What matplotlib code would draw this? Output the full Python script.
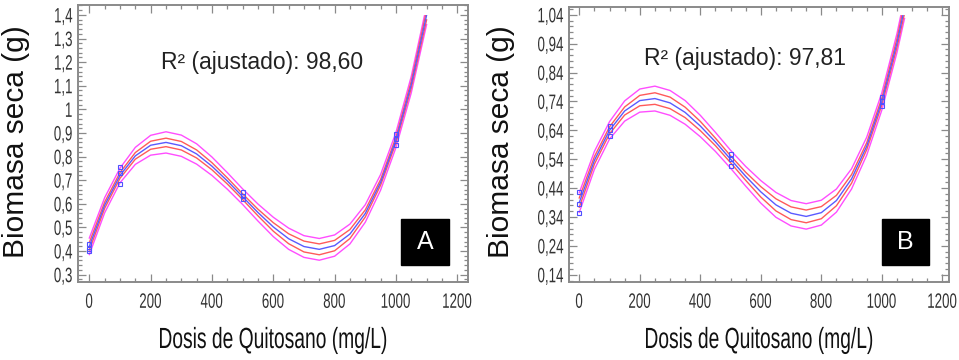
import numpy as np
import matplotlib.pyplot as plt
import matplotlib.patheffects as pe
from matplotlib.patches import Rectangle
from matplotlib.transforms import Affine2D
from matplotlib.ticker import FixedLocator, MultipleLocator, FuncFormatter

# ── data ──────────────────────────────────────────────────────
# panel A (curve sampled every 50 mg/L)
dose_a = [0, 50, 100, 150, 200, 250, 300, 350, 400, 450, 500, 550,
          600, 650, 700, 750, 800, 850, 900, 950, 1000, 1050, 1100]
fit_a = [0.420, 0.594, 0.720, 0.803, 0.848, 0.860, 0.846, 0.811, 0.759, 0.697, 0.630, 0.563,
         0.502, 0.452, 0.419, 0.407, 0.423, 0.472, 0.559, 0.691, 0.870, 1.105, 1.399]
ci_a = [0.016, 0.013, 0.012, 0.014, 0.017, 0.018, 0.018, 0.017, 0.015, 0.013, 0.012, 0.014,
        0.018, 0.021, 0.023, 0.023, 0.022, 0.019, 0.015, 0.012, 0.012, 0.015, 0.020]
pi_a = [0.035, 0.032, 0.031, 0.036, 0.042, 0.045, 0.045, 0.043, 0.039, 0.035, 0.033, 0.036,
        0.041, 0.045, 0.046, 0.046, 0.045, 0.042, 0.037, 0.033, 0.032, 0.035, 0.040]
obs_x_a = [0, 0, 0, 100, 100, 100, 500, 500, 500, 1000, 1000, 1000]
obs_y_a = [0.43, 0.41, 0.40, 0.755, 0.73, 0.685, 0.65, 0.635, 0.62, 0.895, 0.875, 0.85]
yticks_a = [0.3, 0.4, 0.5, 0.6, 0.7, 0.8, 0.9, 1.0, 1.1, 1.2, 1.3, 1.4]

# panel B
dose_b = [0, 50, 100, 150, 200, 250, 300, 350, 400, 450, 500, 550,
          600, 650, 700, 750, 800, 850, 900, 950, 1000, 1050, 1075]
fit_b = [0.390, 0.536, 0.640, 0.707, 0.743, 0.750, 0.735, 0.702, 0.655, 0.600, 0.540, 0.481,
         0.427, 0.382, 0.353, 0.342, 0.355, 0.397, 0.472, 0.585, 0.740, 0.942, 1.063]
ci_b = [0.016, 0.013, 0.012, 0.014, 0.018, 0.020, 0.020, 0.018, 0.016, 0.013, 0.012, 0.014,
        0.018, 0.021, 0.022, 0.022, 0.021, 0.018, 0.015, 0.012, 0.012, 0.015, 0.018]
pi_b = [0.034, 0.031, 0.030, 0.035, 0.040, 0.043, 0.043, 0.041, 0.037, 0.033, 0.031, 0.034,
        0.039, 0.043, 0.044, 0.044, 0.043, 0.040, 0.035, 0.031, 0.030, 0.033, 0.036]
obs_x_b = [0, 0, 0, 100, 100, 100, 500, 500, 500, 1000, 1000, 1000]
obs_y_b = [0.425, 0.385, 0.354, 0.656, 0.640, 0.621, 0.558, 0.540, 0.515, 0.755, 0.740, 0.725]
yticks_b = [0.14, 0.24, 0.34, 0.44, 0.54, 0.64, 0.74, 0.84, 0.94, 1.04]

xticks = [0, 200, 400, 600, 800, 1000, 1200]
r2_a = "R² (ajustado): 98,60"
r2_b = "R² (ajustado): 97,81"

# ── style ─────────────────────────────────────────────────────
plain = ["Liberation Sans", "DejaVu Sans"]
c_fit, c_ci, c_pi, c_pt = "#5a5aff", "#ff5a5a", "#ff4dff", "#5050ff"
frame = "#8a8a8a"


class Condense(pe.AbstractPathEffect):
    # squeeze text horizontally (the original uses a narrow font)
    def __init__(self, sx, anchor="center"):
        super().__init__()
        self.sx, self.anchor = sx, anchor

    def draw_path(self, renderer, gc, tpath, affine, rgbFace=None):
        v = tpath.vertices
        x0, x1 = v[:, 0].min(), v[:, 0].max()
        a = {"left": x0, "center": (x0 + x1) / 2, "right": x1}[self.anchor]
        t = Affine2D().translate(-a, 0).scale(self.sx, 1).translate(a, 0)
        renderer.draw_path(gc, tpath, t + affine, rgbFace)


def comma(v, pos=None):
    return f"{v:.2f}".rstrip("0").rstrip(".").replace(".", ",")


fig = plt.figure(figsize=(9.59, 3.6), dpi=100)


def panel(rect, x, fit, ci, pi, ox, oy, yt, ylim, xlim, r2, r2_xy, tag, tag_rect):
    ax = fig.add_axes(rect)
    x = np.array(x)
    fit, ci, pi = np.array(fit), np.array(ci), np.array(pi)
    clip = Rectangle((xlim[0], ylim[0]), xlim[1] - xlim[0], yt[-1] - ylim[0],
                     transform=ax.transData)
    lines = []
    lines += ax.plot(x, fit + pi, color=c_pi, lw=1.0)
    lines += ax.plot(x, fit - pi, color=c_pi, lw=1.0)
    lines += ax.plot(x, fit + ci, color=c_ci, lw=1.0)
    lines += ax.plot(x, fit - ci, color=c_ci, lw=1.0)
    lines += ax.plot(x, fit, color=c_fit, lw=1.0)
    for ln in lines:
        ln.set_clip_path(clip)
    ax.plot(ox, oy, ls="none", marker="s", ms=3.5, mfc="none", mec=c_pt, mew=0.8)

    ax.set_xlim(*xlim)
    ax.set_ylim(*ylim)
    ax.xaxis.set_major_locator(FixedLocator(xticks))
    ax.xaxis.set_minor_locator(MultipleLocator(50))
    ax.yaxis.set_major_locator(FixedLocator(yt))
    ax.yaxis.set_minor_locator(MultipleLocator(0.02))
    ax.yaxis.set_major_formatter(FuncFormatter(comma))
    ax.tick_params(which="both", direction="in", top=True, right=True,
                   color=frame, width=0.9)
    ax.tick_params(which="major", length=6, labelsize=15, labelcolor="#333333")
    ax.tick_params(which="minor", length=3)
    ax.tick_params(axis="x", pad=8)
    ax.tick_params(axis="y", pad=4)
    for lab in ax.get_xticklabels():
        lab.set_family(plain)
        lab.set_path_effects([Condense(0.64, "center")])
    for lab in ax.get_yticklabels():
        lab.set_family(plain)
        lab.set_path_effects([Condense(0.64, "right")])
    for s in ax.spines.values():
        s.set_color(frame)
        s.set_linewidth(1.4)

    fig.text(r2_xy[0] / 959, 1 - r2_xy[1] / 360, r2, family=plain, fontsize=16.5,
             color="#222222", ha="center", va="center")
    l, t, w, h = tag_rect
    fig.patches.append(Rectangle((l / 959, 1 - (t + h) / 360), w / 959, h / 360,
                                 transform=fig.transFigure, color="black"))
    fig.text((l + w / 2) / 959, 1 - (t + h / 2) / 360, tag, family=plain,
             fontsize=18, color="white", ha="center", va="center")
    return ax


panel([78.3 / 959, 78.3 / 360, 390 / 959, 276.7 / 360],
      dose_a, fit_a, ci_a, pi_a, obs_x_a, obs_y_a, yticks_a,
      (0.270, 1.442), (-36, 1236), r2_a, (262, 62), "A", (401, 219, 48, 46))
panel([569.3 / 959, 78.3 / 360, 380 / 959, 275 / 360],
      dose_b, fit_b, ci_b, pi_b, obs_x_b, obs_y_b, yticks_b,
      (0.116, 1.068), (-33, 1223), r2_b, (745, 58), "B", (882, 219, 47, 46))

for cx in (16, 501):
    fig.text(cx / 959, 1 - 142 / 360, "Biomasa seca (g)", family=plain, fontsize=21.5,
             rotation=90, ha="center", va="center", color="#111111")
for cx in (273, 759):
    t = fig.text(cx / 959, 1 - 340 / 360, "Dosis de Quitosano (mg/L)", family=plain,
                 fontsize=21, ha="center", va="center", color="#111111")
    t.set_path_effects([Condense(0.66, "center")])

fig.savefig("out.png", dpi=100)
